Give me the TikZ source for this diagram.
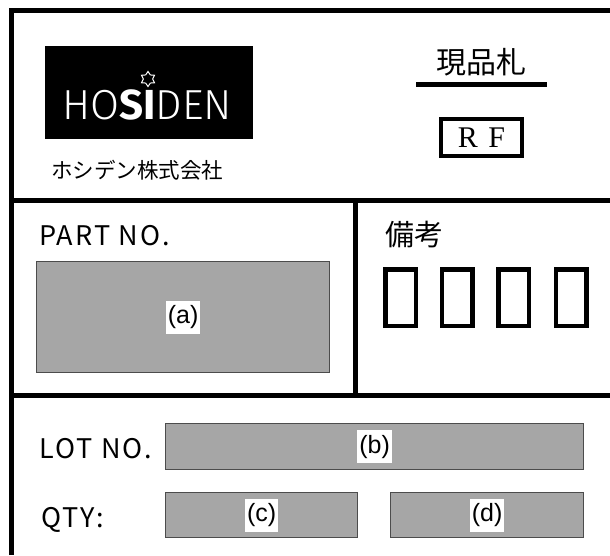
\documentclass[tikz,border=0pt]{standalone}
\usepackage{fontspec}
\setmainfont{Liberation Sans}
\newfontfamily\jpfont{Noto Sans CJK JP}
\newfontfamily\capfont{Noto Sans CJK JP}[LetterSpace=8]
\newfontfamily\logofont{Fira Sans Light}[BoldFont={Fira Sans Bold}]
\newfontfamily\rankfont{Liberation Serif}
\usetikzlibrary{positioning,shapes.geometric}
\definecolor{fieldgray}{RGB}{166,166,166}

\begin{document}
\begin{tikzpicture}[x=1pt, y=-1pt,
  rule/.style={line width=5pt},
  field/.style={draw=black!70, line width=1.2pt, fill=fieldgray, anchor=north west, inner sep=0pt},
  tag/.style={fill=white, inner xsep=2pt, inner ysep=0pt, minimum height=33pt, font=\fontsize{25}{27}\selectfont},
  caption/.style={anchor=base west, inner sep=0pt, font=\capfont\fontsize{27}{30}\selectfont},
  blank/.style={draw, line width=4.5pt, minimum width=30.5pt, minimum height=56.5pt, inner sep=0pt}]
\useasboundingbox (0,0) rectangle (610,555);
% frame
\draw[rule] (11,555) -- (11,10.5) -- (610,10.5);
\draw[rule] (11,200) -- (610,200);
\draw[rule] (11,395) -- (610,395);
\draw[rule] (355.5,200) -- (355.5,395);
% maker
\node[fill=black, minimum width=208pt, minimum height=93pt, anchor=north west, inner sep=0pt] (logo) at (45,46) {};
\node[anchor=base, text=white, inner sep=0pt, font=\logofont\fontsize{42}{44}\selectfont] (brand) at (147,119.5) {HO\textbf{SI}DEN};
\node[star, star points=6, star point ratio=1.6, draw=white, line width=1pt, minimum size=15pt, inner sep=0pt] (flower) at (148,79) {};
\node[inner sep=0pt, font=\jpfont\fontsize{21.5}{24}\selectfont] (maker) at (137,170) {ホシデン株式会社};
% title
\node[inner sep=0pt, font=\jpfont\fontsize{30}{32}\selectfont] (title) at (481,62) {現品札};
\draw[rule] (416,84) -- (547,84);
\node[draw, line width=4pt, minimum width=81pt, minimum height=37pt, inner sep=0pt, font=\rankfont\fontsize{30}{32}\selectfont] (rank) at (481.5,137.5) {R\hspace{0.35em}F};
% part no.
\node[caption] (partlabel) at (39,245) {PART NO.};
\node[field, minimum width=293pt, minimum height=111pt] (part) at (36,261) {};
\node[tag] (parttag) at (part.center) {(a)};
% remarks
\node[inner sep=0pt, font=\jpfont\fontsize{29}{31}\selectfont] (note) at (414,234.5) {備考};
\foreach \x [count=\i] in {400.5,457,513.5,571}
  \node[blank] (blank\i) at (\x,297.5) {};
% lot and quantity
\node[caption] (lotlabel) at (39,458) {LOT NO.};
\node[field, minimum width=418pt, minimum height=46pt] (lot) at (165,423) {};
\node[tag] (lottag) at (lot.center) {(b)};
\node[caption] (qtylabel) at (41,527) {QTY:};
\node[field, minimum width=192pt, minimum height=45pt] (qtyc) at (165,492) {};
\node[tag] (qtyctag) at (qtyc.center) {(c)};
\node[field, minimum width=193pt, minimum height=45pt] (qtyd) at (390,492) {};
\node[tag] (qtydtag) at (qtyd.center) {(d)};
\end{tikzpicture}
\end{document}
